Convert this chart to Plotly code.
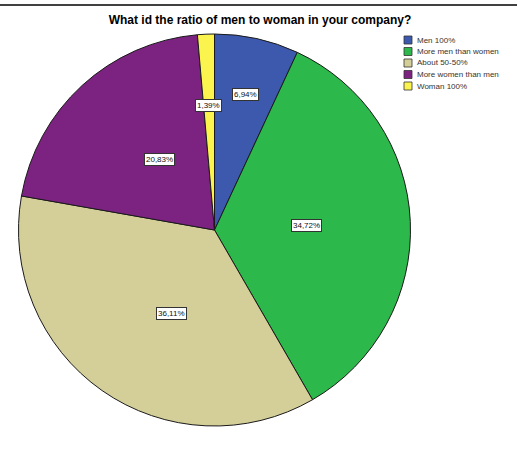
import math
import plotly.graph_objects as go

# Survey answers: share of respondents per category (72 respondents)
categories = ["Men 100%", "More men than women", "About 50-50%",
              "More women than men", "Woman 100%"]
shares = [6.94, 34.72, 36.11, 20.83, 1.39]
value_labels = ["6,94%", "34,72%", "36,11%", "20,83%", "1,39%"]

colors = ["#3d59ae", "#2db84b", "#d4cf98", "#7c2381", "#fbf44f"]
label_radius = [0.74, 0.47, 0.52, 0.53, 0.67]   # radial position of value boxes (fraction of R)

W, H = 517, 476
cx, cy, R = 214.5, 230.0, 196.0   # pie centre and radius in pixels

fig = go.Figure(go.Pie(
    labels=categories,
    values=shares,
    sort=False,
    direction="clockwise",
    rotation=0,
    marker=dict(colors=colors, line=dict(color="#1a1a1a", width=1)),
    textinfo="none",
    hoverinfo="label+percent",
    showlegend=False,
    domain=dict(x=[(cx - R) / W, (cx + R) / W],
                y=[1 - (cy + R) / H, 1 - (cy - R) / H]),
))

# value boxes placed at each slice's mid-angle
total = sum(shares)
cum = 0.0
annotations = []
for v, txt, rf in zip(shares, value_labels, label_radius):
    mid = (cum + v / 2) / total * 2 * math.pi
    cum += v
    px = cx + rf * R * math.sin(mid)
    py = cy - rf * R * math.cos(mid)
    annotations.append(dict(
        x=px / W, y=1 - py / H, xref="paper", yref="paper",
        text=txt, showarrow=False,
        font=dict(family="Arial, Liberation Sans, sans-serif", size=8, color="#111"),
        bgcolor="white", bordercolor="#333", borderwidth=1, borderpad=1,
    ))

# legend drawn as swatches + text
leg_x, leg_y0, leg_dy, sw = 404, 40, 11.5, 8
shapes = [dict(type="line", xref="paper", yref="paper",
               x0=0, x1=1, y0=1 - 5 / H, y1=1 - 5 / H,
               line=dict(color="black", width=1.5))]
for i, (name, col) in enumerate(zip(categories, colors)):
    yc = leg_y0 + i * leg_dy
    shapes.append(dict(type="rect", xref="paper", yref="paper",
                       x0=leg_x / W, x1=(leg_x + sw) / W,
                       y0=1 - (yc + sw / 2) / H, y1=1 - (yc - sw / 2) / H,
                       fillcolor=col, line=dict(color="#333", width=0.8)))
    annotations.append(dict(
        x=(leg_x + sw + 3) / W, y=1 - yc / H, xref="paper", yref="paper",
        xanchor="left", yanchor="middle", text=name, showarrow=False,
        font=dict(family="Arial, Liberation Sans, sans-serif", size=8, color="#333"),
    ))

fig.update_layout(
    width=W, height=H,
    margin=dict(l=0, r=0, t=0, b=0),
    paper_bgcolor="white", plot_bgcolor="white",
    title=dict(text="<b>What id the ratio of men to woman in your company?</b>",
               x=260 / W, xanchor="center", y=1 - 20 / H, yanchor="middle",
               font=dict(family="Arial, Liberation Sans, sans-serif", size=12, color="black")),
    annotations=annotations,
    shapes=shapes,
)

fig.write_html("out.html")
